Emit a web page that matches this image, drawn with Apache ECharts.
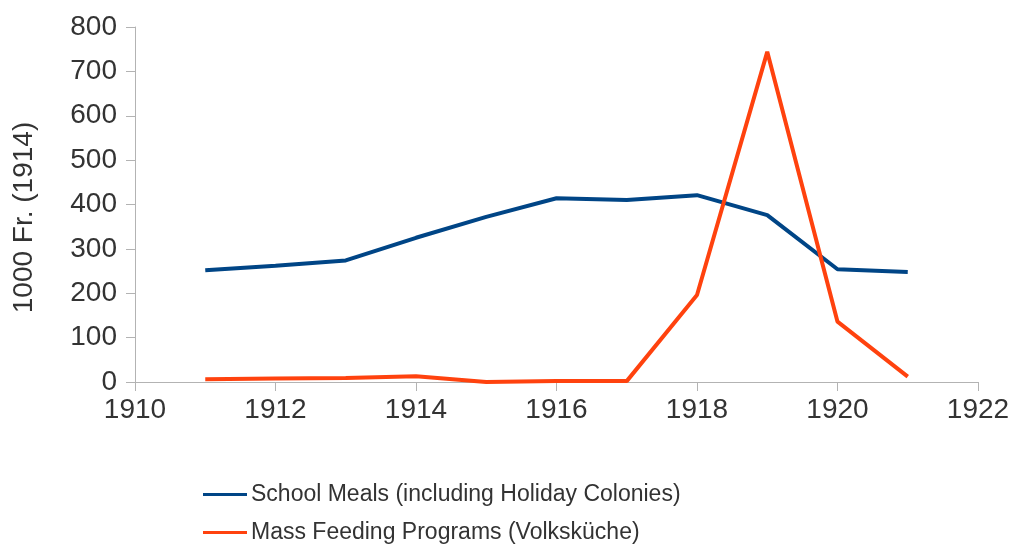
<!DOCTYPE html>
<html>
<head>
<meta charset="utf-8">
<script src="https://cdn.jsdelivr.net/npm/echarts@6/dist/echarts.min.js"></script>
<style>
  html, body { margin: 0; padding: 0; background: #fff; }
  #chart { width: 1011px; height: 544px; }
</style>
</head>
<body>
<div id="chart"></div>
<script>
const years = [1911, 1912, 1913, 1914, 1915, 1916, 1917, 1918, 1919, 1920, 1921];
const schoolMeals = [252, 262, 274, 325, 372, 414, 410, 421, 376, 254, 248];
const massFeeding = [6, 8, 9, 13, 0, 2, 2, 196, 744, 136, 12];
const seriesNames = ["School Meals (including Holiday Colonies)", "Mass Feeding Programs (Volksküche)"];

const pairs = (vals) => years.map((y, i) => [y, vals[i]]);

const axisText = { color: "#333333", fontSize: 28, fontFamily: "Liberation Sans" };

const legendFor = (name, top) => ({
    orient: "vertical",
    left: 198,
    top: top,
    itemWidth: 44,
    itemHeight: 14,
    icon: "path://M0,6 L44,6 L44,9 L0,9 Z",
    textStyle: { color: "#333333", fontSize: 23, fontFamily: "Liberation Sans", padding: [0, 0, 0, -1] },
    data: [name]
});

const myChart = echarts.init(document.getElementById("chart"));
myChart.setOption({
    animation: false,
    textStyle: { fontFamily: "Liberation Sans" },
    grid: { left: 135, right: 33, top: 27, bottom: 162, outerBoundsMode: "none", containLabel: false },
    legend: [legendFor(seriesNames[0], 478), legendFor(seriesNames[1], 516)],
    xAxis: {
        type: "value",
        min: 1910,
        max: 1922,
        interval: 2,
        axisLine: { show: true, lineStyle: { color: "#b3b3b3", width: 1 } },
        axisTick: { show: true, length: 9, lineStyle: { color: "#b3b3b3" } },
        splitLine: { show: false },
        axisLabel: Object.assign({ margin: 14, formatter: (v) => String(v) }, axisText)
    },
    yAxis: {
        type: "value",
        min: 0,
        max: 800,
        interval: 100,
        name: "1000 Fr. (1914)",
        nameLocation: "middle",
        nameGap: 97,
        nameTextStyle: { color: "#333333", fontSize: 28, fontFamily: "Liberation Sans", padding: [0, 26, 0, 0] },
        axisLine: { show: true, lineStyle: { color: "#b3b3b3", width: 1 } },
        axisTick: { show: true, length: 9, lineStyle: { color: "#b3b3b3" } },
        splitLine: { show: false },
        axisLabel: Object.assign({ margin: 18 }, axisText)
    },
    series: [
        {
            name: seriesNames[0],
            type: "line",
            data: pairs(schoolMeals),
            symbol: "none",
            itemStyle: { color: "#004586" },
            lineStyle: { color: "#004586", width: 4 }
        },
        {
            name: seriesNames[1],
            type: "line",
            data: pairs(massFeeding),
            symbol: "none",
            itemStyle: { color: "#ff420e" },
            lineStyle: { color: "#ff420e", width: 4 }
        }
    ]
});
</script>
</body>
</html>
